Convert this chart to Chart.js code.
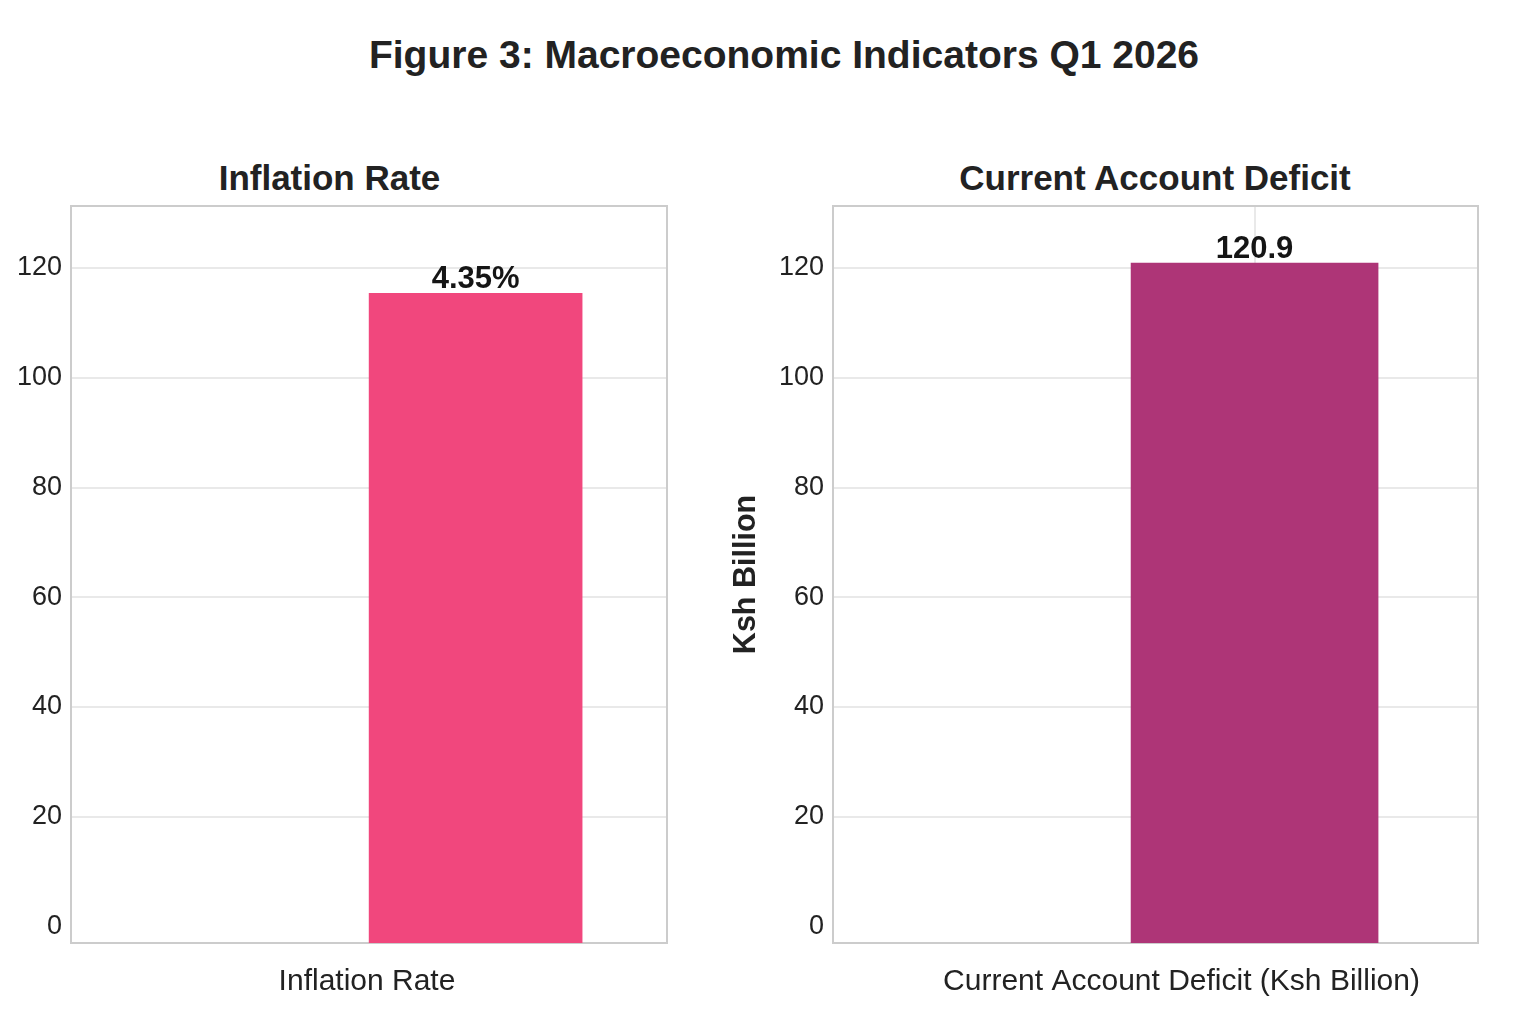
<!DOCTYPE html>
<html><head><meta charset="utf-8">
<script src="https://cdn.jsdelivr.net/npm/chart.js@4.4.1/dist/chart.umd.min.js"></script>
<style>
html,body{margin:0;padding:0;background:#fff;}
#wrap{position:relative;width:1536px;height:1024px;overflow:hidden;background:#fff;}
canvas{position:absolute;top:0;}
.t{position:absolute;font-family:"Liberation Sans",Arial,sans-serif;font-weight:bold;color:#222;text-align:center;white-space:nowrap;}
</style></head>
<body><div id="wrap">
<div class="t" id="mainTitle" style="left:284px;width:1000px;top:35px;font-size:39px;line-height:39px;"></div>
<div class="t" id="title1" style="left:0;width:659px;top:160px;font-size:35px;line-height:35px;"></div>
<div class="t" id="title2" style="left:855px;width:600px;top:160px;font-size:35px;line-height:35px;"></div>
<canvas id="c1" width="700" height="1024" style="left:0"></canvas>
<canvas id="c2" width="836" height="1024" style="left:700px"></canvas>
</div>
<script>
const FIGURE_TITLE = 'Figure 3: Macroeconomic Indicators Q1 2026';
const PANEL_TITLES = ['Inflation Rate', 'Current Account Deficit'];

const INFLATION_CATEGORIES = ['Inflation Rate'];
const INFLATION_VALUES = [115.4];
const INFLATION_LABELS = ['4.35%'];

const CAD_CATEGORIES = ['Current Account Deficit (Ksh Billion)'];
const CAD_VALUES = [120.9];
const CAD_LABELS = ['120.9'];
const CAD_Y_TITLE = 'Ksh Billion';

const BAR_X = [0];
const Y_TICKS = [0, 20, 40, 60, 80, 100, 120];
const Y_MIN = -3.0, Y_MAX = 131.3;

const FONT = '"Liberation Sans", Arial, sans-serif';
const TEXT = '#222';
const GRID = '#e9e9e9';
const FRAME = '#cccccc';

document.getElementById('mainTitle').textContent = FIGURE_TITLE;
document.getElementById('title1').textContent = PANEL_TITLES[0];
document.getElementById('title2').textContent = PANEL_TITLES[1];

const framePlugin = {
  id: 'frame',
  beforeDatasetsDraw(chart) {
    const {ctx, chartArea: a} = chart;
    ctx.save();
    ctx.strokeStyle = FRAME;
    ctx.lineWidth = 2;
    ctx.strokeRect(a.left, a.top, a.right - a.left, a.bottom - a.top);
    ctx.restore();
  }
};

const valueLabels = {
  id: 'valueLabels',
  afterDatasetsDraw(chart, args, opts) {
    const {ctx} = chart;
    const meta = chart.getDatasetMeta(0);
    ctx.save();
    ctx.font = 'bold 31px ' + FONT;
    ctx.fillStyle = '#151515';
    ctx.textAlign = 'center';
    ctx.textBaseline = 'alphabetic';
    meta.data.forEach((bar, i) => ctx.fillText(opts.labels[i], bar.x, bar.y - 5));
    ctx.restore();
  }
};

const xTitlePlugin = {
  id: 'xTitle',
  afterDraw(chart, args, opts) {
    const {ctx, chartArea: a} = chart;
    ctx.save();
    ctx.font = '30px ' + FONT;
    ctx.fillStyle = TEXT;
    ctx.textAlign = 'center';
    ctx.textBaseline = 'alphabetic';
    ctx.fillText(opts.text, (a.left + a.right) / 2 + opts.shift, a.bottom + 47);
    ctx.restore();
  }
};

function makeChart(id, c) {
  return new Chart(document.getElementById(id), {
    type: 'bar',
    data: {
      labels: c.categories,
      datasets: [{
        label: c.categories[0],
        data: c.values.map((v, i) => ({x: BAR_X[i], y: v})),
        backgroundColor: c.color,
        borderWidth: 0,
        barThickness: c.barPx,
        base: Y_MIN
      }]
    },
    options: {
      responsive: false,
      animation: false,
      devicePixelRatio: 1,
      layout: {padding: {top: 206, right: c.padRight, bottom: 0, left: 0}},
      plugins: {
        legend: {display: false},
        title: {display: false},
        tooltip: {enabled: false},
        valueLabels: {labels: c.labels},
        xTitle: {text: c.categories[0], shift: c.xTitleShift}
      },
      scales: {
        x: {
          type: 'linear', min: c.xMin, max: c.xMax, offset: false,
          grid: {display: c.xGrid, color: GRID, lineWidth: 2, drawTicks: false, offset: false},
          border: {display: false},
          ticks: {display: false},
          afterBuildTicks: s => { s.ticks = BAR_X.map(v => ({value: v})); },
          afterFit: s => { s.height = 81; },
          title: {display: false}
        },
        y: {
          type: 'linear', min: Y_MIN, max: Y_MAX,
          grid: {color: ctx => (ctx.tick && ctx.tick.value === 0) ? 'rgba(0,0,0,0)' : GRID,
                 lineWidth: 2, drawTicks: false},
          border: {display: false},
          afterBuildTicks: s => { s.ticks = Y_TICKS.map(v => ({value: v})); },
          ticks: {color: TEXT, font: {family: FONT, size: 27}, padding: 9},
          afterFit: s => { s.width = c.yAxisWidth; },
          title: c.yTitle ? {display: true, text: c.yTitle, color: TEXT,
                  font: {family: FONT, size: 30.5, weight: 'bold'}, padding: {top: 28, bottom: 0}}
                  : {display: false}
        }
      }
    },
    plugins: [framePlugin, valueLabels, xTitlePlugin]
  });
}

makeChart('c1', {
  categories: INFLATION_CATEGORIES, values: INFLATION_VALUES, labels: INFLATION_LABELS,
  color: '#F1477D', barPx: 213, xMin: -1, xMax: 0.473, yAxisWidth: 71, padRight: 33,
  yTitle: null, xGrid: false, xTitleShift: -2
});
makeChart('c2', {
  categories: CAD_CATEGORIES, values: CAD_VALUES, labels: CAD_LABELS,
  color: '#AE3577', barPx: 247, xMin: -1, xMax: 0.530, yAxisWidth: 133, padRight: 58,
  yTitle: CAD_Y_TITLE, xGrid: true, xTitleShift: 26
});
</script>
</body></html>
